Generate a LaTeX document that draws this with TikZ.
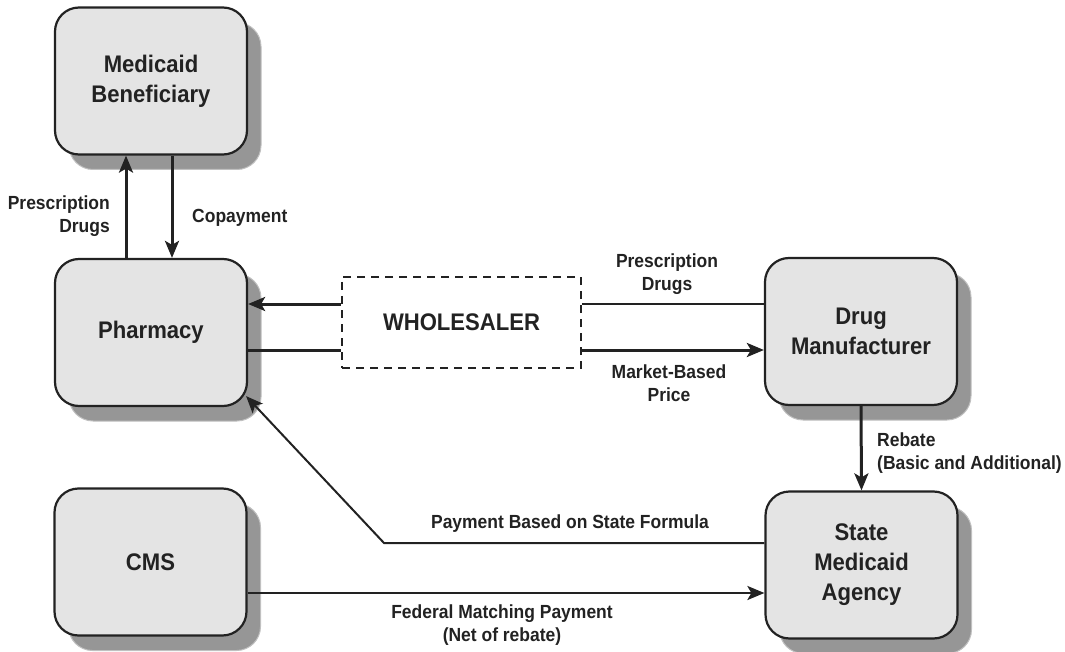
\documentclass[tikz,border=0pt]{standalone}
\usepackage{fontspec}
\setmainfont{Liberation Sans}[FakeStretch=0.92]
\usetikzlibrary{arrows.meta,shadows,calc}
\definecolor{linec}{HTML}{222222}
\definecolor{boxfill}{HTML}{E4E4E4}
\definecolor{shadowc}{HTML}{969696}
\newcommand{\boxfont}{\fontsize{24}{30}\selectfont\bfseries}
\newcommand{\lblfont}{\fontsize{19}{23}\selectfont\bfseries}
\begin{document}
\begin{tikzpicture}[x=1pt,y=-1pt,
  entity/.style={draw=linec, line width=2.2pt, fill=boxfill, rounded corners=24pt,
    minimum width=192pt, minimum height=147pt, align=center, font=\boxfont, text=linec,
    general shadow={fill=shadowc, draw=shadowc!60!white, line width=1pt,
      shadow xshift=14pt, shadow yshift=-15pt}},
  middle/.style={draw=linec, line width=2.2pt, dash pattern=on 8pt off 6pt,
    minimum width=239pt, minimum height=91pt, font=\boxfont, text=linec},
  lbl/.style={font=\lblfont, text=linec, align=center, inner sep=0pt},
  tip/.style={-{Stealth[length=17pt,width=14pt,inset=4pt]}},
  arr/.style={tip, line width=3pt, draw=linec},
  flow/.style={line width=3pt, draw=linec},
  thinflow/.style={line width=2pt, draw=linec}]
\useasboundingbox (0,0) rectangle (1065,652);

% boxes
\node[entity] (ben) at (151,81) {Medicaid\\Beneficiary};
\node[entity] (pharm) at (151,332.5) {Pharmacy};
\node[entity] (cms) at (150.5,562) {CMS};
\node[entity] (drug) at (861,331.5) {Drug\\Manufacturer};
\node[entity] (state) at (861.5,565) {State\\Medicaid\\Agency};
\node[middle] (whl) at (461.5,322.5) {WHOLESALER};

% helper coordinates
\coordinate (cup) at (126,0);
\coordinate (cdown) at (172,0);
\coordinate (rtop) at (0,304);
\coordinate (rbot) at (0,350);
\coordinate (rpay) at (0,543);
\coordinate (rfed) at (0,593);
\coordinate (pk) at (384,543);
\coordinate (ptip) at ($(pharm.south east)+(-2,-11)$);

% beneficiary <-> pharmacy
\draw[arr] (cup |- pharm.north) -- (cup |- ben.south);
\draw[arr] (cdown |- ben.south) -- (cdown |- pharm.north);

% pharmacy <-> wholesaler
\draw[arr] (rtop -| whl.west) -- (rtop -| pharm.east);
\draw[flow] (rbot -| pharm.east) -- (rbot -| whl.west);

% wholesaler <-> manufacturer
\draw[thinflow, line width=2.4pt] (rtop -| drug.west) -- (rtop -| whl.east);
\draw[arr] (rbot -| whl.east) -- (rbot -| drug.west);

% rebate
\draw[arr] (drug.south) -- (state.north);

% payment based on state formula
\draw[thinflow, tip] (rpay -| state.west) -- (pk) -- (ptip);

% federal matching
\draw[arr, line width=2.6pt] (rfed -| cms.east) -- (rfed -| state.west);

% labels
\node[lbl, align=right, anchor=east] (l1) at (110,216) {Prescription\\Drugs};
\node[lbl, anchor=west] (l2) at (192,218) {Copayment};
\node[lbl] (l3) at (667,274) {Prescription\\Drugs};
\node[lbl] (l4) at (669,383) {Market-Based\\Price};
\node[lbl, align=left, anchor=west] (l5) at (877,453) {Rebate\\(Basic and Additional)};
\node[lbl] (l6) at (570,524) {Payment Based on State Formula};
\node[lbl] (l7) at (502,625) {Federal Matching Payment\\(Net of rebate)};
\end{tikzpicture}
\end{document}
